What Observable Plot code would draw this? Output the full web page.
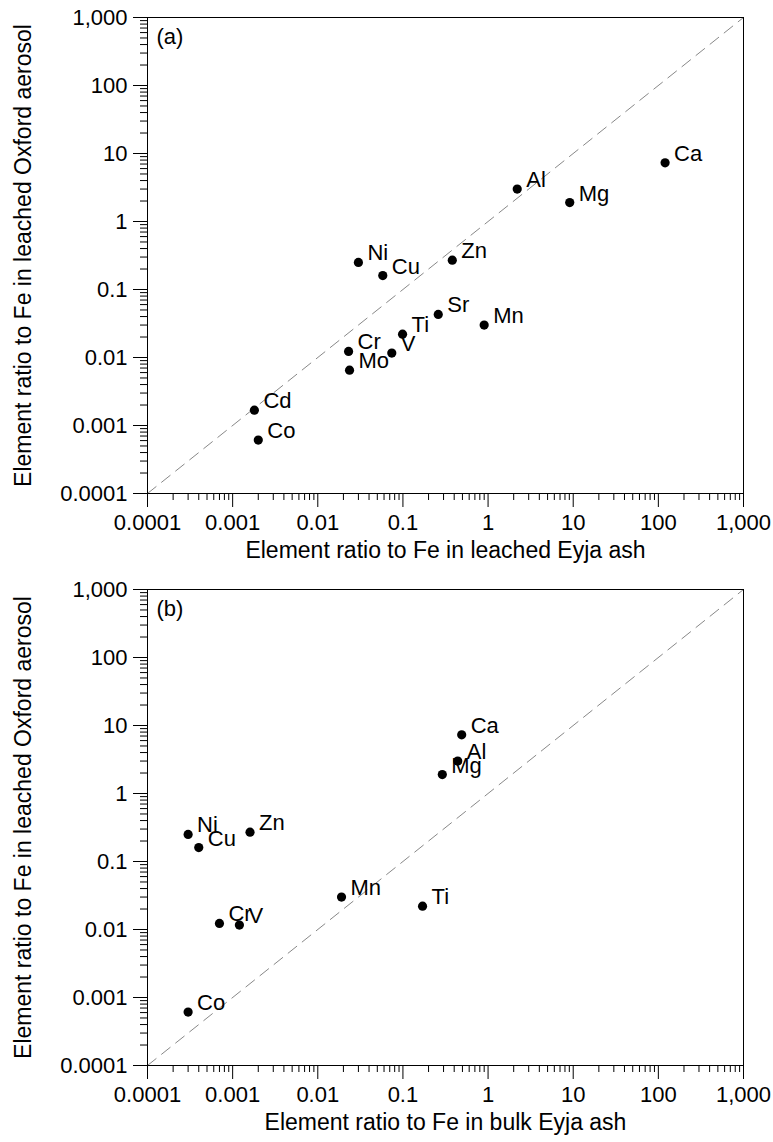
<!DOCTYPE html>
<html>
<head>
<meta charset="utf-8">
<script src="https://cdn.jsdelivr.net/npm/d3@7"></script>
<script src="https://cdn.jsdelivr.net/npm/@observablehq/plot@0.6"></script>
<style>
  html, body { margin: 0; padding: 0; background: #fff; color: #000; }
  #chart { width: 773px; }
  #chart svg { display: block; }
</style>
</head>
<body>
<div id="chart"></div>
<script>
// ---- data ----
const domainLimits = [0.0001, 1000];
const majorTicks = [0.0001, 0.001, 0.01, 0.1, 1, 10, 100, 1000];
const majorTickLabels = ["0.0001", "0.001", "0.01", "0.1", "1", "10", "100", "1,000"];
const minorMultipliers = [2, 3, 4, 5, 6, 7, 8, 9];

// Oxford aerosol (leached), ratio to Fe
const oxfordElements = ["Ca", "Al", "Mg", "Ni", "Cu", "Zn", "Sr", "Mn", "Ti", "V", "Cr", "Mo", "Cd", "Co"];
const oxfordLeached  = [7.3, 3.0, 1.9, 0.25, 0.16, 0.27, 0.043, 0.030, 0.022, 0.0116, 0.0123, 0.0065, 0.00168, 0.00061];

// Panel (a): leached Eyja ash
const leachedElements = ["Ca", "Al", "Mg", "Ni", "Cu", "Zn", "Sr", "Mn", "Ti", "V", "Cr", "Mo", "Cd", "Co"];
const eyjaLeached     = [120, 2.2, 9.1, 0.030, 0.058, 0.38, 0.26, 0.90, 0.099, 0.074, 0.023, 0.0236, 0.0018, 0.0020];

// Panel (b): bulk Eyja ash
const bulkElements = ["Ca", "Al", "Mg", "Ni", "Cu", "Zn", "Mn", "Ti", "Cr", "V", "Co"];
const eyjaBulk     = [0.49, 0.44, 0.29, 0.0003, 0.0004, 0.0016, 0.019, 0.17, 0.0007, 0.0012, 0.0003];

const yTitle = "Element ratio to Fe in leached Oxford aerosol";
const panels = [
  {tag: "(a)", xTitle: "Element ratio to Fe in leached Eyja ash", elements: leachedElements, xs: eyjaLeached},
  {tag: "(b)", xTitle: "Element ratio to Fe in bulk Eyja ash", elements: bulkElements, xs: eyjaBulk}
];

// ---- build ----
const minorTicks = majorTicks.slice(0, -1).flatMap(t => minorMultipliers.map(m => t * m));
const fmt = d => majorTickLabels[majorTicks.findIndex(t => Math.abs(Math.log10(t) - Math.log10(d)) < 1e-9)];
const oxfordOf = el => oxfordLeached[oxfordElements.indexOf(el)];
const oneToOne = domainLimits.map(v => ({x: v, y: v}));
const font = "'Liberation Sans', Arial, Helvetica, sans-serif";

panels.forEach((p, k) => {
  const rows = p.elements.map((el, i) => ({el, x: p.xs[i], y: oxfordOf(el)}));
  const chart = Plot.plot({
    width: 773,
    height: k === 0 ? 572 : 570,
    marginTop: 17,
    marginBottom: k === 0 ? 79 : 77,
    marginLeft: 147,
    marginRight: 30,
    style: {fontFamily: font, fontSize: "22px", color: "#000", background: "#fff", overflow: "visible"},
    x: {type: "log", domain: domainLimits, label: null},
    y: {type: "log", domain: domainLimits, label: null},
    marks: [
      Plot.line(oneToOne, {x: "x", y: "y", stroke: "#888", strokeWidth: 1, strokeDasharray: "11,7"}),
      Plot.frame({stroke: "#000", strokeWidth: 1}),
      Plot.axisX({ticks: majorTicks, tickSize: 14, tickPadding: 7, tickFormat: fmt, label: null, fontSize: 22}),
      Plot.axisX({ticks: minorTicks, tickSize: 7, fill: "none", label: null}),
      Plot.axisY({ticks: majorTicks, tickSize: 14, tickPadding: 6, tickFormat: fmt, label: null, fontSize: 22}),
      Plot.axisY({ticks: minorTicks, tickSize: 7, fill: "none", label: null}),
      Plot.dot(rows, {x: "x", y: "y", r: 4.6, fill: "#000", stroke: "none"}),
      Plot.text(rows, {x: "x", y: "y", text: "el", textAnchor: "start", dx: 9, dy: -9, fontSize: 22, fill: "#000"}),
      Plot.text([p.tag], {frameAnchor: "top-left", dx: 9, dy: 11, lineAnchor: "top", textAnchor: "start", fontSize: 22, fill: "#000"}),
      Plot.text([p.xTitle], {frameAnchor: "bottom", dy: 64, lineAnchor: "bottom", textAnchor: "middle", fontSize: 23, fill: "#000"}),
      Plot.text([yTitle], {frameAnchor: "left", dx: -124, rotate: -90, lineAnchor: "middle", textAnchor: "middle", fontSize: 23, fill: "#000"})
    ]
  });
  document.getElementById("chart").appendChild(chart);
});
</script>
</body>
</html>
